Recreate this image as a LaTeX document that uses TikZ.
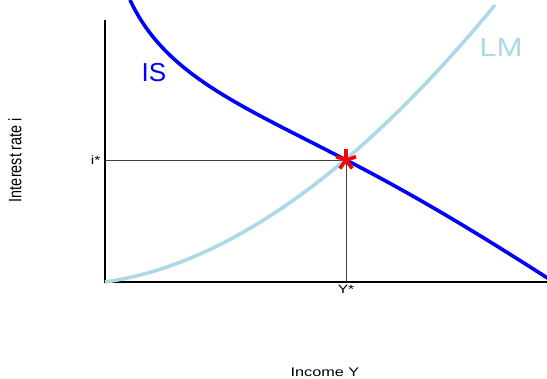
\documentclass[tikz,border=0pt]{standalone}
\usepackage{fontspec}
\setmainfont{Liberation Sans}
\usetikzlibrary{positioning}

\begin{document}
\begin{tikzpicture}[x=1pt, y=-1pt,
      axis/.style={line width=1.6pt, black},
      guide/.style={line width=0.7pt, black!75},
      curveis/.style={line width=3.6pt, blue},
      curvelm/.style={line width=3.6pt, draw=lmblue},
      stararm/.style={line width=3.6pt, red},
      tick/.style={font=\fontsize{12}{14}\selectfont, inner sep=1pt, xscale=1.3},
      axlabel/.style={font=\fontsize{12.5}{15}\selectfont, inner sep=0pt},
      curvelabel/.style={font=\fontsize{26}{28}\selectfont, inner sep=0pt}
    ]
    \definecolor{lmblue}{RGB}{173,216,230}
    \useasboundingbox (0,0) rectangle (547,379);

    \coordinate (top) at (105,20);
    \coordinate (o) at (105,282);
    \coordinate (xend) at (547,282);
    \coordinate (eq) at (346,160);
    \coordinate (ystar) at (346,282);
    \coordinate (istar) at (105,160);

    % axes
    \draw[axis] (top) -- (o) -- (xend);

    % guide lines
    \draw[guide] (istar) -- (eq) -- (ystar);

    % LM curve
    \draw[curvelm] (o) .. controls (260,260) and (400,120) .. (495,5);
    % IS curve
    \draw[curveis] (130,0) .. controls (165,75) and (240,105) .. (eq)
      .. controls (420,198) and (485,238) .. (549,279);

    % equilibrium star
    \foreach \a in {90,18,162,-54,-126}
      \draw[stararm] (eq) -- ++(\a:-10.5);

    \node[tick, left=3pt of istar] (ilab) {i*};
    \node[tick, below=2pt of ystar] (ylab) {Y*};
    \node[curvelabel, text=blue] (is) at (154,72.5) {IS};
    \node[curvelabel, text=lmblue, xscale=1.2] (lm) at (501,47.5) {LM};
    \node[axlabel, font=\fontsize{14.4}{16}\selectfont, rotate=90] (ylabel) at (15,160)
      {\scalebox{1}[1.25]{Interest rate i}};
    \node[axlabel, anchor=base, xscale=1.3] (xlabel) at (325,377) {Income Y};
  \end{tikzpicture}
\end{document}
